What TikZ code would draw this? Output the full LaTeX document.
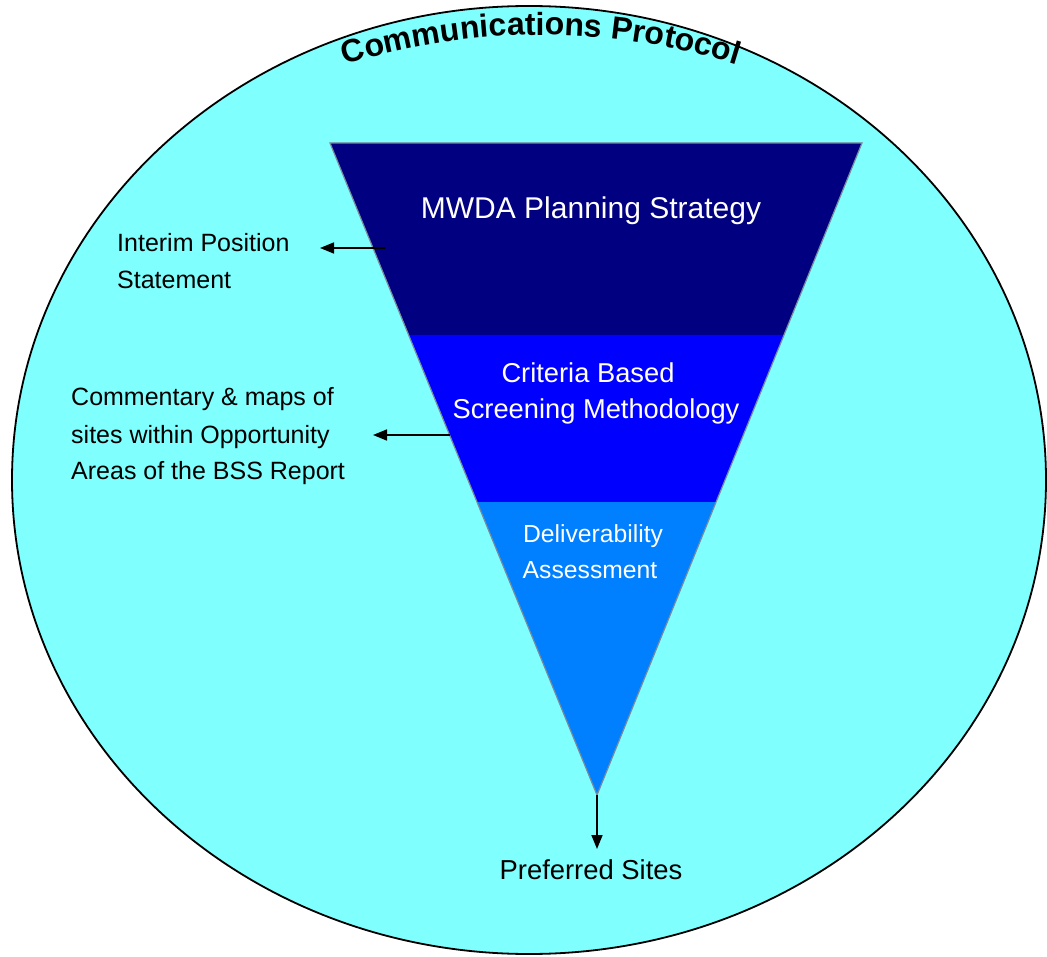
\documentclass[tikz,border=0pt]{standalone}
\usepackage{fontspec}
\setmainfont{Liberation Sans}
\usetikzlibrary{arrows.meta,decorations.text}
\definecolor{bgcyan}{HTML}{80FFFF}
\definecolor{band1}{HTML}{000080}
\definecolor{band2}{HTML}{0000FF}
\definecolor{band3}{HTML}{0080FF}
\definecolor{edgegray}{HTML}{7A8A9A}
\tikzset{
  arr/.style={line width=1.7pt,-{Triangle[length=14pt,width=11pt]}},
  bandtext/.style={text=white,inner sep=0pt,align=center},
  sidetext/.style={text=black,inner sep=0pt,align=left},
}
\begin{document}
\begin{tikzpicture}[x=1pt,y=1pt]
\useasboundingbox (0,0) rectangle (1047,-957);
% outer ellipse
\draw[fill=bgcyan,line width=1.8pt] (529,-480) ellipse [x radius=517, y radius=474];
% funnel corners
\coordinate (tl) at (330,-143);
\coordinate (tr) at (862,-143);
\coordinate (apex) at (597,-795);
\coordinate (l1) at (409,-335);
\coordinate (r1) at (784,-335);
\coordinate (l2) at (477,-502);
\coordinate (r2) at (716,-502);
\fill[band1] (tl) -- (tr) -- (r1) -- (l1) -- cycle;
\fill[band2] (l1) -- (r1) -- (r2) -- (l2) -- cycle;
\fill[band3] (l2) -- (r2) -- (apex) -- cycle;
\draw[edgegray,line width=1.2pt,line join=miter] (tl) -- (tr) -- (apex) -- cycle;
% band texts
\node[bandtext,anchor=base,font=\fontsize{30}{36}\selectfont] (mwda) at (591,-219) {MWDA Planning Strategy};
\node[bandtext,anchor=base,font=\fontsize{27.3}{36}\selectfont] (cbs1) at (588,-383) {Criteria Based};
\node[bandtext,anchor=base,font=\fontsize{27.3}{36}\selectfont] (cbs2) at (596,-419) {Screening Methodology};
\node[bandtext,anchor=base,font=\fontsize{24.7}{36}\selectfont] (da1) at (593,-542) {Deliverability};
\node[bandtext,anchor=base,font=\fontsize{24.7}{36}\selectfont] (da2) at (590,-578) {Assessment};
% side texts
\node[sidetext,anchor=base west,font=\fontsize{25}{37}\selectfont] (ips1) at (117,-252) {Interim Position};
\node[sidetext,anchor=base west,font=\fontsize{25}{37}\selectfont] (ips2) at (117,-289) {Statement};
\node[sidetext,anchor=base west,font=\fontsize{25}{37}\selectfont] (com1) at (71,-406) {Commentary \& maps of};
\node[sidetext,anchor=base west,font=\fontsize{25}{37}\selectfont] (com2) at (71,-443) {sites within Opportunity};
\node[sidetext,anchor=base west,font=\fontsize{25}{37}\selectfont] (com3) at (71,-479) {Areas of the BSS Report};
\node[sidetext,anchor=base,font=\fontsize{27.4}{36}\selectfont] (pref) at (591,-879) {Preferred Sites};
% arrows
\coordinate (e1) at (385,-248);
\coordinate (t1) at (320,-248);
\coordinate (e2) at (450,-435);
\coordinate (t2) at (373,-435);
\coordinate (t3) at (597,-849);
\draw[arr] (e1) -- (t1);
\draw[arr] (e2) -- (t2);
\draw[arr] (apex) -- (t3);
% curved title
\path[decorate,decoration={text along path,text align=center,
  text format delimiters={|}{|},
  text={|\fontsize{32}{32}\bfseries\selectfont|Communications Protocol}}]
  (541,-700) ++(110:665) arc[start angle=110,end angle=70,radius=665];
\end{tikzpicture}
\end{document}
